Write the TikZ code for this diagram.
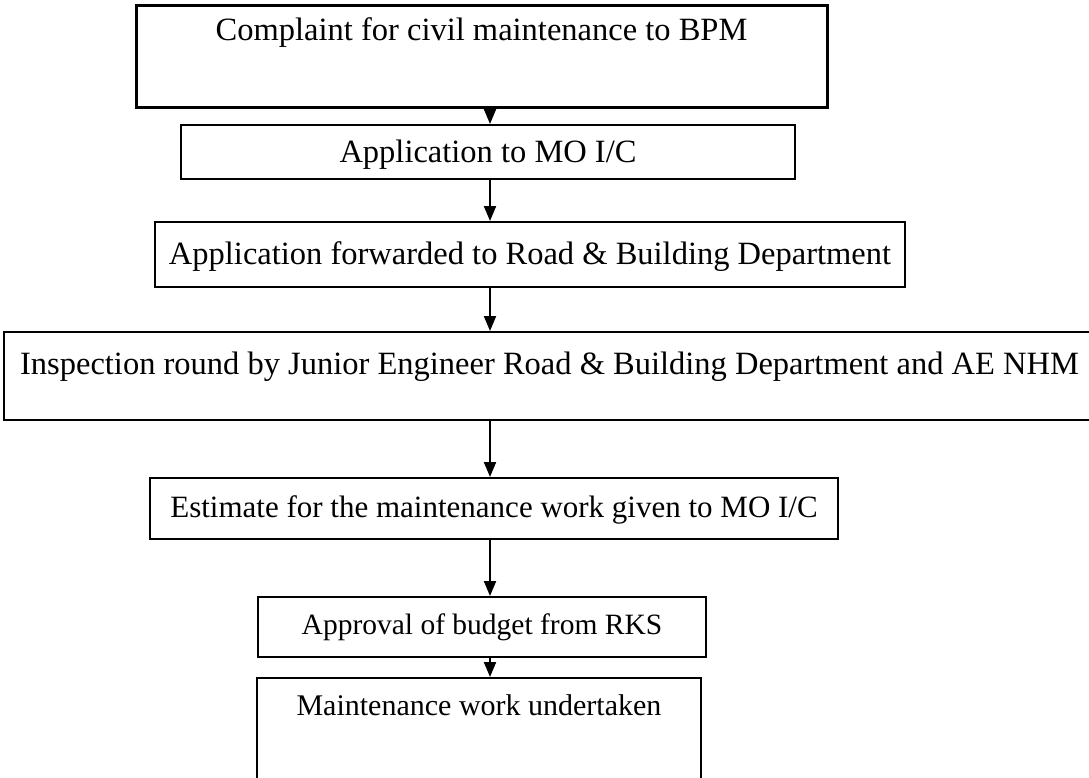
\documentclass[tikz,border=0pt]{standalone}
\usepackage{fontspec}
\setmainfont{Liberation Serif}
\usetikzlibrary{arrows.meta}
\tikzset{
  stepbox/.style={
    draw,
    line width=2pt,
    anchor=north,
    inner sep=0pt,
    font=\fontsize{32.5}{39}\selectfont
  },
  flow/.style={
    line width=2pt,
    -{Triangle[length=15pt,width=12pt]}
  }
}

\begin{document}
\begin{tikzpicture}[x=1pt,y=-1pt]
  \useasboundingbox (0,0) rectangle (1089,777);
  \clip (0,0) rectangle (1089,777);
  \coordinate (axis) at (490,0);
  \node[stepbox, line width=3pt, minimum width=691pt, text height=35pt, text depth=67pt]
    (complaint) at (481.5,4) {Complaint for civil maintenance to BPM};
  \node[stepbox, minimum width=614pt, text height=37pt, text depth=17pt]
    (apply) at (488,124) {Application to MO I/C};
  \node[stepbox, minimum width=750pt, text height=42pt, text depth=23pt]
    (forward) at (530,221) {Application forwarded to Road \& Building Department};
  \node[stepbox, minimum width=1091pt, text height=42pt, text depth=46pt]
    (inspect) at (549.5,331) {Inspection round by Junior Engineer Road \& Building Department and AE NHM};
  \node[stepbox, font=\fontsize{31}{37}\selectfont, minimum width=688pt, text height=39pt, text depth=22pt]
    (estimate) at (494,477) {Estimate for the maintenance work given to MO I/C};
  \node[stepbox, font=\fontsize{29.5}{35}\selectfont, minimum width=448pt, text height=37pt, text depth=23pt]
    (approve) at (482,596) {Approval of budget from RKS};
  \node[stepbox, font=\fontsize{30}{36}\selectfont, minimum width=444pt, text height=37pt, text depth=90pt]
    (undertake) at (479,677) {Maintenance work undertaken};
  % arrows between the steps
  \draw[flow] (complaint.south -| axis) -- (apply.north -| axis);
  \draw[flow] (apply.south -| axis) -- (forward.north -| axis);
  \draw[flow] (forward.south -| axis) -- (inspect.north -| axis);
  \draw[flow] (inspect.south -| axis) -- (estimate.north -| axis);
  \draw[flow] (estimate.south -| axis) -- (approve.north -| axis);
  \draw[flow] (approve.south -| axis) -- (undertake.north -| axis);
\end{tikzpicture}
\end{document}
